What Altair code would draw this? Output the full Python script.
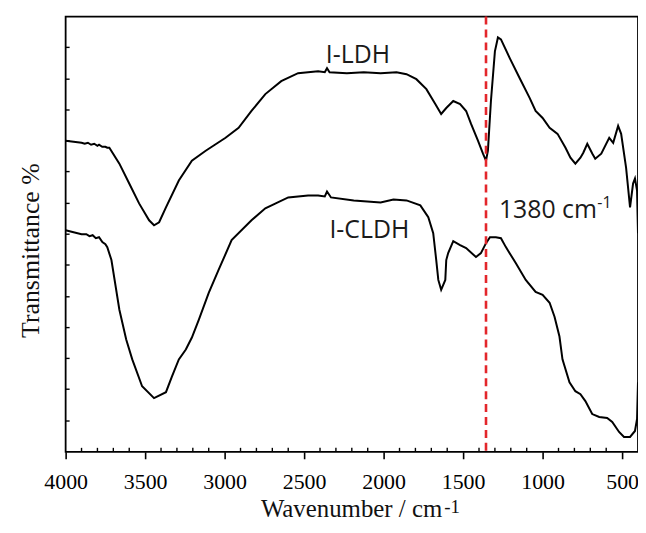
import altair as alt
import pandas as pd

# ---- data (wavenumber cm-1, transmittance in arbitrary units) ----
ldh_wn = [4000, 3950, 3900, 3880, 3860, 3840, 3820, 3800, 3790, 3770, 3750, 3738, 3725,
          3662, 3600, 3538, 3475, 3444, 3412, 3369, 3288, 3206, 3119, 2994, 2912, 2831,
          2744, 2644, 2538, 2412, 2370, 2356, 2340, 2231, 2125, 2019, 1919, 1856, 1794,
          1731, 1675, 1638, 1606, 1562, 1519, 1481, 1450, 1406, 1375, 1356, 1344, 1325,
          1300, 1281, 1262, 1206, 1144, 1081, 1044, 1000, 956, 906, 856, 825, 794, 762,
          744, 719, 687, 669, 631, 581, 556, 525, 506, 475, 450, 431, 419, 406, 400]
ldh_t = [313, 312, 311, 310, 311, 309, 310, 308, 309, 307, 307, 306, 306,
         290, 270, 250, 233, 228, 231, 246, 273, 293, 303, 316, 326, 343,
         360, 373, 381, 383, 382, 386, 382, 381, 382, 381, 382, 380, 375,
         365, 350, 340, 346, 353, 350, 343, 330, 313, 300, 293, 303, 353,
         403, 417, 415, 396, 376, 356, 343, 336, 326, 320, 306, 296, 290, 296,
         301, 310, 300, 295, 300, 316, 311, 328, 320, 286, 246, 270, 275, 263, 220]

cldh_wn = [4000, 3950, 3900, 3870, 3850, 3830, 3810, 3790, 3769, 3750, 3738, 3712, 3662,
           3619, 3581, 3519, 3444, 3369, 3331, 3288, 3244, 3206, 3162, 3100, 3038, 2956,
           2831, 2744, 2600, 2475, 2412, 2370, 2356, 2331, 2188, 2019, 1938, 1856, 1769,
           1719, 1688, 1669, 1656, 1638, 1612, 1606, 1594, 1562, 1519, 1481, 1419, 1388,
           1356, 1331, 1294, 1262, 1231, 1169, 1106, 1044, 1000, 956, 925, 894, 875, 831,
           794, 762, 731, 688, 644, 594, 562, 519, 488, 450, 419, 406, 400]
cldh_t = [223, 221, 219, 219, 217, 218, 215, 216, 211, 209, 206, 193, 143,
          113, 93, 66, 54, 60, 76, 93, 103, 115, 133, 160, 183, 213,
          233, 245, 256, 258, 258, 257, 262, 256, 253, 251, 254, 253, 248,
          236, 220, 193, 173, 163, 173, 193, 200, 212, 208, 205, 196, 200,
          210, 216, 216, 215, 206, 190, 173, 161, 158, 150, 136, 116, 93, 70,
          61, 58, 51, 38, 35, 34, 30, 20, 15, 15, 21, 33, 70]

x_major = [4000, 3500, 3000, 2500, 2000, 1500, 1000, 500]
x_minor = [3900, 3800, 3700, 3600, 3400, 3300, 3200, 3100, 2900, 2800, 2700, 2600,
           2400, 2300, 2200, 2100, 1900, 1800, 1700, 1600, 1400, 1300, 1200, 1100,
           900, 800, 700, 600]
y_minor = [31, 63, 94, 125, 156, 188, 219, 250, 282, 313, 344, 375, 407]

marker_wn = [1356]

label_text = ["I-LDH", "I-CLDH", "1380 cm"]
label_wn = [2162, 2090, 1275]
label_t = [391, 215, 235]
label_align = ["center", "center", "left"]

# ---- frames ----
curves = pd.concat([
    pd.DataFrame({"wn": ldh_wn, "t": ldh_t, "series": "I-LDH"}),
    pd.DataFrame({"wn": cldh_wn, "t": cldh_t, "series": "I-CLDH"}),
])
labels = pd.DataFrame({"wn": label_wn, "t": label_t, "text": label_text, "align": label_align})

W, H = 576, 438
xscale = alt.Scale(domain=[400, 4000], reverse=True, nice=False, zero=False)
yscale = alt.Scale(domain=[0, 438], nice=False, zero=False)

SERIF = "Liberation Serif"
SANS = "Open Sans"

xaxis = alt.Axis(
    values=x_major, format="d", labelFont=SERIF, labelFontSize=22, labelColor="black",
    labelFlush=False, labelPadding=13, tickSize=7, tickWidth=1.6, tickColor="black",
    domain=False, grid=False, title="Wavenumber / cm", titleFont=SERIF,
    titleFontSize=25, titleFontWeight="normal", titleColor="#111",
    titleAlign="left", titleBaseline="alphabetic", titleX=196, titleY=65)
yaxis = alt.Axis(
    labels=False, ticks=False, domain=False, grid=False, title="Transmittance %",
    titleFont=SERIF, titleFontSize=26, titleFontWeight="normal", titleColor="#111",
    titleAngle=270, titleAlign="center", titleBaseline="alphabetic",
    titleX=-27, titleY=235)

lines = alt.Chart(curves).mark_line(color="black", strokeWidth=2).encode(
    x=alt.X("wn:Q", scale=xscale, axis=xaxis),
    y=alt.Y("t:Q", scale=yscale, axis=yaxis),
    detail="series:N",
    order=alt.Order("wn:Q", sort="descending"),
)

xminor = alt.Chart(pd.DataFrame({"wn": x_minor})).mark_rule(color="black", strokeWidth=1.4).encode(
    x=alt.X("wn:Q", scale=xscale, axis=xaxis),
    y=alt.value(H), y2=alt.value(H - 4),
)
yminor = alt.Chart(pd.DataFrame({"t": y_minor})).mark_rule(color="black", strokeWidth=1.4).encode(
    y=alt.Y("t:Q", scale=yscale, axis=yaxis),
    x=alt.value(0), x2=alt.value(4),
)

marker = alt.Chart(pd.DataFrame({"wn": marker_wn})).mark_rule(
    color="#e3262b", strokeWidth=2.6, strokeDash=[8, 5]).encode(
    x=alt.X("wn:Q", scale=xscale, axis=xaxis),
)

text_c = alt.Chart(labels[labels["align"] == "center"]).mark_text(
    font=SANS, fontSize=25, color="#1a1a1a", baseline="alphabetic", align="center").encode(
    x=alt.X("wn:Q", scale=xscale, axis=xaxis),
    y=alt.Y("t:Q", scale=yscale, axis=yaxis),
    text="text:N",
)
text_l = alt.Chart(labels[labels["align"] == "left"]).mark_text(
    font=SANS, fontSize=25, color="#1a1a1a", baseline="alphabetic", align="left").encode(
    x=alt.X("wn:Q", scale=xscale, axis=xaxis),
    y=alt.Y("t:Q", scale=yscale, axis=yaxis),
    text="text:N",
)

sup_label = alt.Chart(pd.DataFrame({"wn": [656], "t": [245], "s": ["-1"]})).mark_text(
    font=SANS, fontSize=16, color="#1a1a1a", baseline="alphabetic", align="left").encode(
    x=alt.X("wn:Q", scale=xscale, axis=xaxis),
    y=alt.Y("t:Q", scale=yscale, axis=yaxis),
    text="s:N",
)

sup_title = alt.Chart(pd.DataFrame({"s": ["-1"]})).mark_text(
    font=SERIF, fontSize=19, color="#111", baseline="alphabetic", align="left").encode(
    x=alt.value(381), y=alt.value(500), text="s:N",
)

chart = alt.layer(lines, xminor, yminor, marker, text_c, text_l, sup_label, sup_title).properties(
    width=W, height=H,
    autosize=alt.AutoSizeParams(type="none"),
    padding={"left": 58, "top": 7, "right": 0, "bottom": 70},
    background="white",
).configure_view(stroke="black", strokeWidth=1.8)

chart.save("out.html", embed_options={"renderer": "svg", "actions": False})
